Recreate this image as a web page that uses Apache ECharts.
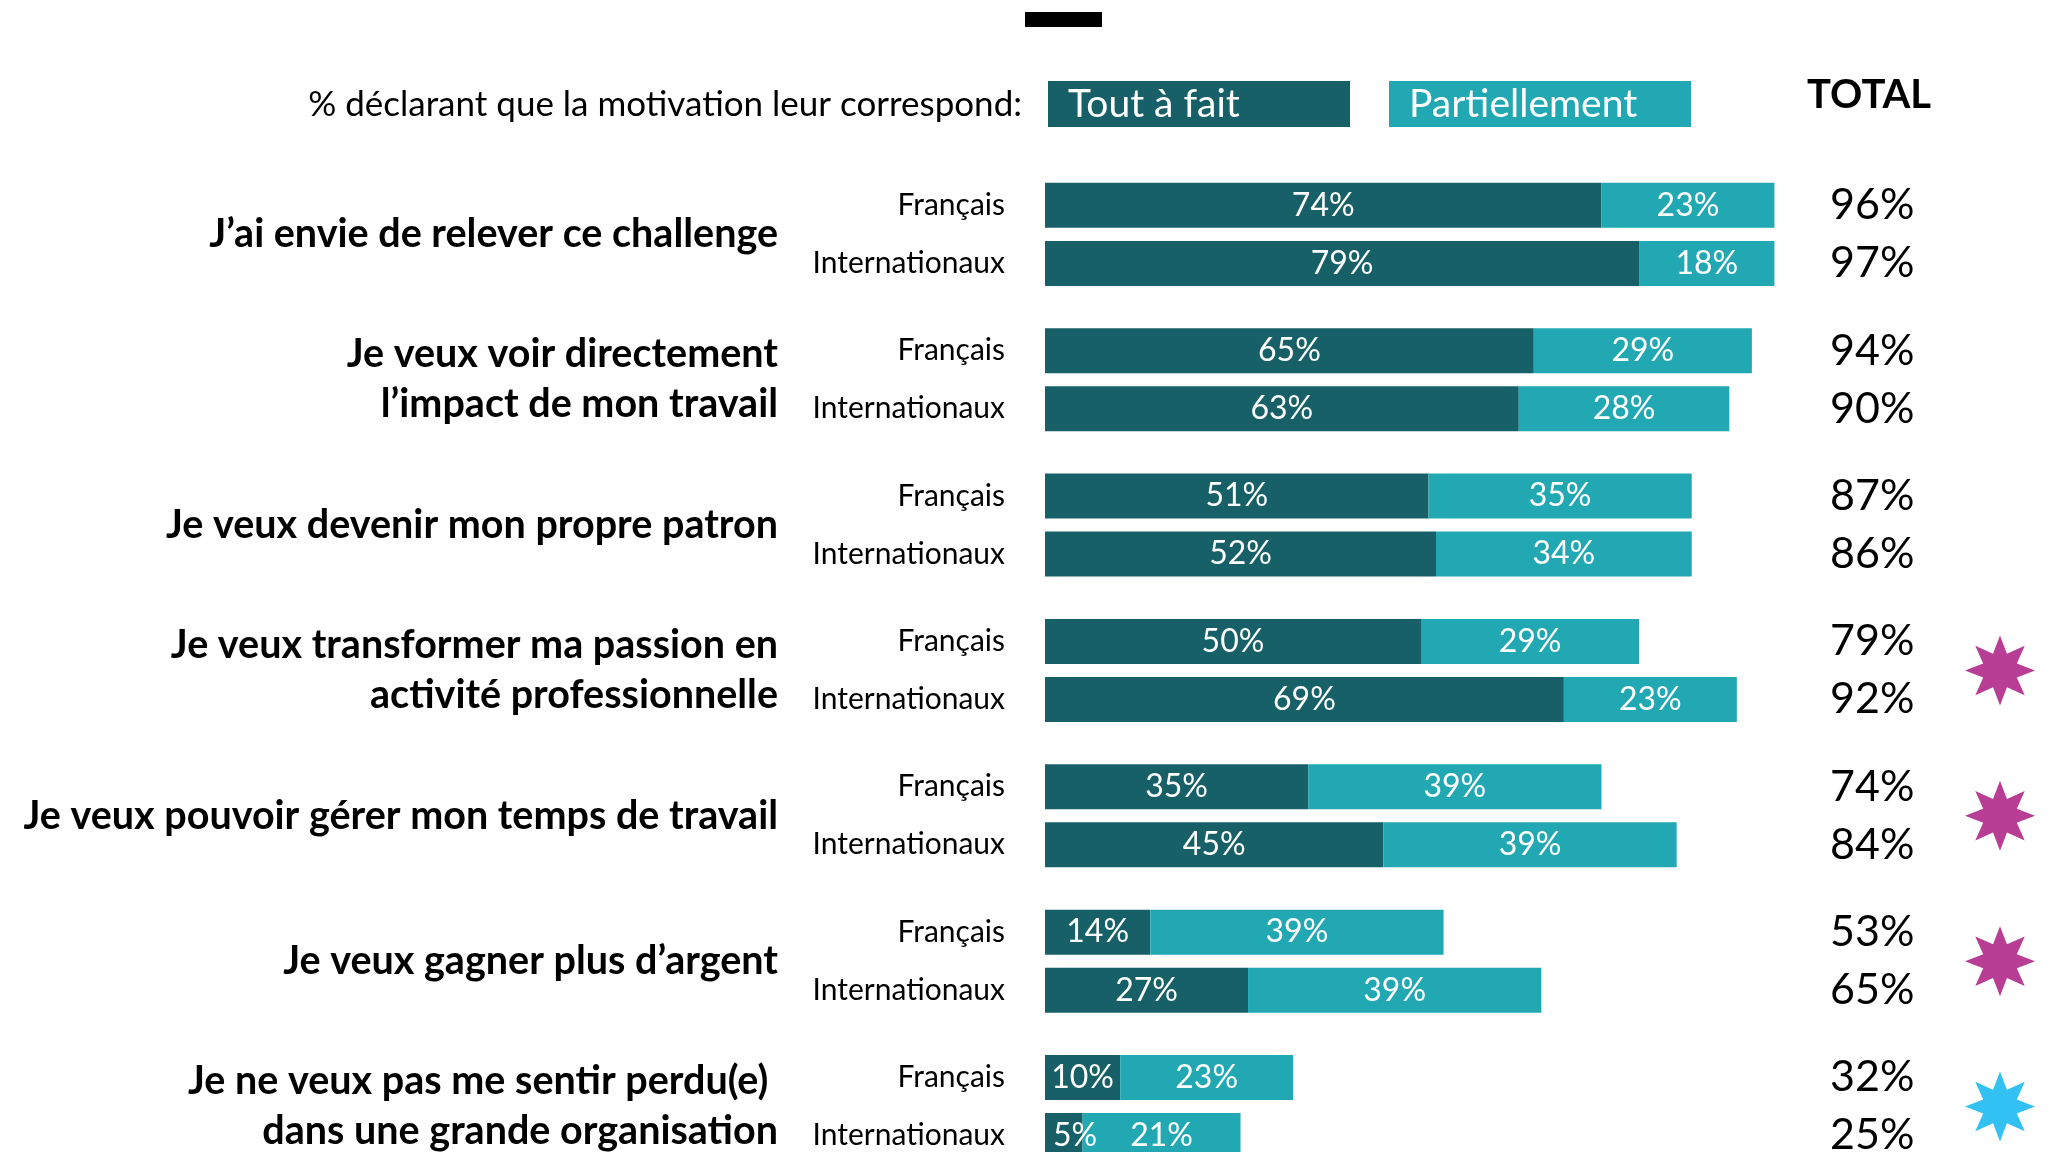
<!DOCTYPE html>
<html>
<head>
<meta charset="utf-8">
<script src="https://cdn.jsdelivr.net/npm/echarts@6/dist/echarts.min.js"></script>
<style>
html,body{margin:0;padding:0;background:#fff;}
#chart{width:2049px;height:1152px;}
</style>
</head>
<body>
<div id="chart"></div>
<script>
// ---- data ----
const groups = [
  "J’ai envie de relever ce challenge",
  "Je veux voir directement\nl’impact de mon travail",
  "Je veux devenir mon propre patron",
  "Je veux transformer ma passion en\nactivité professionnelle",
  "Je veux pouvoir gérer mon temps de travail",
  "Je veux gagner plus d’argent",
  "Je ne veux pas me sentir perdu(e) \ndans une grande organisation"
];
const subLabels = ["Français", "Internationaux"];
const seriesNames = ["Tout à fait", "Partiellement"];
const frTout   = [74, 65, 51, 50, 35, 14, 10];
const frPart   = [23, 29, 35, 29, 39, 39, 23];
const intTout  = [79, 63, 52, 69, 45, 27, 5];
const intPart  = [18, 28, 34, 23, 39, 39, 21];
const frTotal  = [96, 94, 87, 79, 74, 53, 32];
const intTotal = [97, 90, 86, 92, 84, 65, 25];
const starColors = [null, null, null, "#A50D7A", "#A50D7A", "#A50D7A", "#00B0F0"];
const headerText = "% déclarant que la motivation leur correspond:";
const totalHeader = "TOTAL";

// ---- styles ----
const DARK = "#176068";
const LIGHT = "#21A8B3";
const FONT = "Lato";

function starPath(points, inner) {
  let d = "";
  const n = points * 2;
  for (let k = 0; k < n; k++) {
    const a = k * Math.PI / points - Math.PI / 2;
    const r = (k % 2 === 0) ? 1 : inner;
    const x = (r * Math.cos(a)).toFixed(4);
    const y = (r * Math.sin(a)).toFixed(4);
    d += (k === 0 ? "M" : "L") + x + " " + y + " ";
  }
  return "path://" + d + "Z";
}

const chart = echarts.init(document.getElementById("chart"), null, {renderer: "canvas"});

const gridTop = 161.7, gridHeight = 1017.5;

const barLabel = {
  show: true,
  position: "inside",
  color: "#fff",
  fontFamily: FONT,
  fontSize: 32,
  formatter: p => p.value + "%"
};

function mkData(arr) {
  return arr.map(v => v < 8
    ? {value: v, label: {position: "insideLeft", distance: 8}}
    : v);
}

function barSeries(name, stack, data, color) {
  return {
    name: name,
    type: "bar",
    stack: stack,
    xAxisIndex: 0,
    yAxisIndex: 0,
    data: mkData(data),
    barWidth: 45,
    barGap: "29%",
    itemStyle: {color: color},
    label: barLabel,
    silent: true,
    animation: false
  };
}

const hiddenAxisParts = {
  axisLine: {show: false},
  axisTick: {show: false},
  splitLine: {show: false}
};

const option = {
  backgroundColor: "#fff",
  animation: false,
  title: [
    {
      text: headerText,
      right: 2049 - 1022,
      top: 83.5,
      padding: 0,
      textStyle: {fontFamily: FONT, fontWeight: "normal", fontSize: 35, color: "#000", lineHeight: 42}
    },
    {
      text: totalHeader,
      left: 1807,
      top: 75,
      padding: 0,
      textStyle: {fontFamily: FONT, fontWeight: "bold", fontSize: 40, color: "#000", lineHeight: 40}
    }
  ],
  legend: {
    left: 1043,
    top: 81,
    padding: 0,
    itemWidth: 0,
    itemHeight: 0,
    itemGap: 34,
    icon: "none",
    selectedMode: false,
    data: [
      {name: seriesNames[0], textStyle: {backgroundColor: DARK}},
      {name: seriesNames[1], textStyle: {backgroundColor: LIGHT}}
    ],
    textStyle: {
      color: "#fff",
      fontFamily: FONT,
      fontSize: 39,
      width: 282,
      height: 46,
      lineHeight: 46,
      padding: [0, 0, 0, 20]
    }
  },
  graphic: [
    {type: "rect", left: 1025, top: 12, shape: {width: 77, height: 15}, style: {fill: "#000"}}
  ],
  grid: [
    {left: 1045, width: 752, top: gridTop, height: gridHeight, outerBoundsMode: "none", containLabel: false},
    {left: 1965, width: 70, top: gridTop, height: gridHeight, outerBoundsMode: "none", containLabel: false}
  ],
  xAxis: [
    {type: "value", gridIndex: 0, min: 0, max: 100, show: false},
    {type: "value", gridIndex: 1, min: -1, max: 1, show: false}
  ],
  yAxis: [
    {
      type: "category", gridIndex: 0, data: groups, inverse: true, position: "left",
      ...hiddenAxisParts,
      axisLabel: {
        interval: 0, margin: 267, color: "#000", fontFamily: FONT,
        fontWeight: "bold", fontSize: 39.5, lineHeight: 50, align: "right"
      }
    },
    {
      type: "category", gridIndex: 0, data: groups, inverse: true, position: "left",
      ...hiddenAxisParts,
      axisLabel: {
        interval: 0, margin: 40, align: "right",
        formatter: () => "{s|" + subLabels[0] + "}\n{s|" + subLabels[1] + "}",
        rich: {s: {color: "#000", fontFamily: FONT, fontSize: 30, lineHeight: 58, align: "right"}}
      }
    },
    {
      type: "category", gridIndex: 0, data: groups, inverse: true, position: "right",
      ...hiddenAxisParts,
      axisLabel: {
        interval: 0, margin: 33, align: "left",
        formatter: (v, i) => "{t|" + frTotal[i] + "%}\n{t|" + intTotal[i] + "%}",
        rich: {t: {color: "#000", fontFamily: FONT, fontSize: 43, lineHeight: 58, align: "left"}}
      }
    },
    {
      type: "category", gridIndex: 1, data: groups, inverse: true, show: false
    }
  ],
  series: [
    barSeries(seriesNames[0], "fr", frTout, DARK),
    barSeries(seriesNames[1], "fr", frPart, LIGHT),
    barSeries(seriesNames[0], "int", intTout, DARK),
    barSeries(seriesNames[1], "int", intPart, LIGHT),
    {
      name: "stars",
      type: "scatter",
      xAxisIndex: 1,
      yAxisIndex: 3,
      symbol: starPath(8, 0.52),
      symbolSize: 70,
      clip: false,
      silent: true,
      data: starColors.map((c, i) => c ? {value: [0, i], itemStyle: {color: c}} : null).filter(Boolean)
    }
  ]
};

chart.setOption(option);
</script>
</body>
</html>
